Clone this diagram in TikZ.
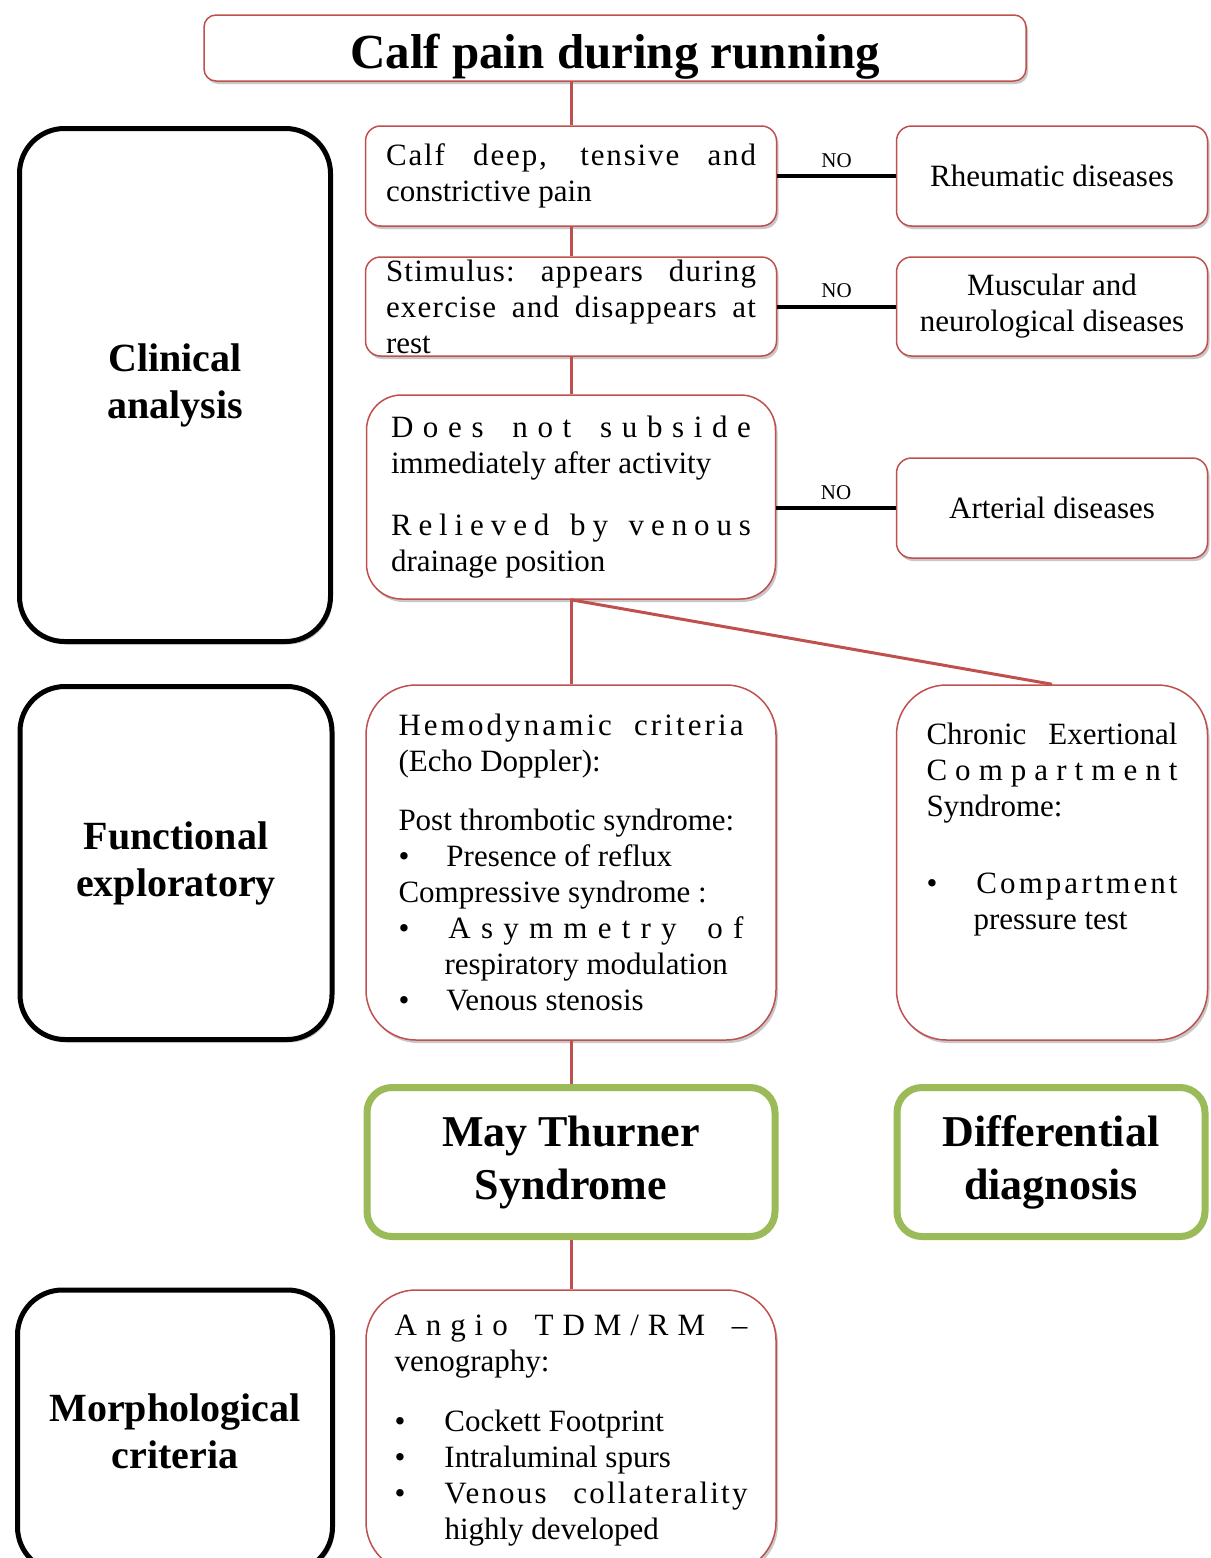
\documentclass[tikz,border=0pt]{standalone}
\usepackage{fontspec}
\setmainfont{Liberation Serif}
\usetikzlibrary{shadows,positioning,calc}

\definecolor{boxred}{HTML}{C0504D}
\definecolor{boxgreen}{HTML}{9BBB59}

\newcommand\bodyfont{\fontsize{31}{36}\selectfont}
\newcommand\headfont{\fontsize{49}{56}\selectfont\bfseries}
\newcommand\sidefont{\fontsize{40}{47}\selectfont\bfseries}
\newcommand\resfont{\fontsize{44}{53}\selectfont\bfseries}
\newcommand\nofont{\fontsize{21}{24}\selectfont}
% justified lines: word spread (\jl, optional letter spacing) and letter spread (\ls), plain and with bullet
\newcommand\wgap{\hspace{0pt plus 2fil}}
\newcommand\jl[2][0]{\makebox[\hsize][s]{\spaceskip=.25em plus 1fil\xspaceskip=.25em plus 1fil\relax\addfontfeature{LetterSpace=#1}#2}}
\newcommand\ls[1]{\makebox[\hsize][s]{\spaceskip=0pt plus 1fil\xspaceskip=0pt plus 1fil\relax#1}}
\newcommand\bul[1]{\makebox[#1][l]{\textbullet}}
\newcommand\bjl[3][0]{\bul{#2}\makebox[\dimexpr\hsize-#2\relax][s]{\spaceskip=.25em plus 1fil\relax\addfontfeature{LetterSpace=#1}#3}}
\newcommand\bls[2]{\bul{#1}\makebox[\dimexpr\hsize-#1\relax][s]{\spaceskip=0pt plus 1fil\relax#2}}

\tikzset{
  softshadow/.style={drop shadow={shadow xshift=2pt,shadow yshift=-3pt,opacity=.3,fill=black!70}},
  stepred/.style={draw=boxred,line width=1.5pt,fill=white,rounded corners=#1,softshadow,align=left,font=\bodyfont,inner sep=0pt,
    execute at begin node={\spaceskip=0pt\xspaceskip=0pt}},
  stepred/.default=15pt,
  sidebox/.style={draw=black,line width=5pt,fill=white,rounded corners=45pt,softshadow,align=center,font=\sidefont},
  resultbox/.style={draw=boxgreen,line width=7pt,fill=white,rounded corners=25pt,softshadow,align=center,font=\resfont,
    execute at begin node={\rule{0pt}{50pt}}},
  flow/.style={boxred,line width=3pt},
  nolink/.style={black,line width=4pt},
}

\begin{document}
\begin{tikzpicture}[x=1pt,y=-1pt]
        \useasboundingbox (0,0) rectangle (1210,1558);
        \fill[white] (0,0) rectangle (1210,1558);
        \def\midx{571}
        \def\rightx{1052}

        % title
        \node[stepred=12pt,align=center,font=\headfont,minimum width=822pt,minimum height=66pt,text height=52pt,text depth=11pt] (title) at (615,48) {Calf pain during running};

        % left column
        \node[sidebox,minimum width=311pt,minimum height=513pt] (clin) at (175,385) {Clinical\\analysis};
        \node[sidebox,minimum width=312pt,minimum height=353pt] (func) at (176,863) {Functional\\exploratory};
        \node[sidebox,minimum width=315pt,minimum height=282pt] (morph) at (175,1431) {Morphological\\criteria};

        % clinical steps
        \node[stepred,minimum width=411pt,minimum height=100pt,text width=370pt] (a1) at (\midx,176)
            {\jl[6]{Calf deep, tensive and}\\constrictive pain};
        \node[stepred,minimum width=411pt,minimum height=99pt,text width=370pt] (a2) at (\midx,306.5)
            {\jl[4]{Stimulus: appears during}\\\jl[4]{exercise and disappears at}\\rest};
        \node[stepred=35pt,minimum width=409pt,minimum height=204pt,text width=360pt] (a3) at (\midx,497)
            {\ls{D o e s \wgap n o t \wgap s u b s i d e}\\immediately after activity\\[26pt]
             \ls{R e l i e v e d \wgap b y \wgap v e n o u s}\\drainage position};

        \node[stepred,align=center,minimum width=311pt,minimum height=100pt] (r1) at (\rightx,176) {Rheumatic diseases};
        \node[stepred,align=center,minimum width=311pt,minimum height=99pt] (r2) at (\rightx,306.5) {Muscular and\\neurological diseases};
        \node[stepred,align=center,minimum width=311pt,minimum height=100pt] (r3) at (\rightx,508) {Arterial diseases};

        % functional exploration
        \node[stepred=50pt,minimum width=410pt,minimum height=355pt,text width=345pt] (b1) at (\midx,862.5)
            {\jl[10]{Hemodynamic criteria}\\(Echo Doppler):\\[23pt]
             Post thrombotic syndrome:\\\bul{48pt}Presence of reflux\\Compressive syndrome :\\
             \bls{50pt}{A s y m m e t r y \wgap o f}\\\hspace*{46pt}respiratory modulation\\\bul{48pt}Venous stenosis};
        \node[stepred=50pt,minimum width=311pt,minimum height=355pt,text width=251pt] (b2) at (\rightx,862.5)
            {\jl{Chronic Exertional}\\\ls{C o m p a r t m e n t}\\Syndrome:\\[41pt]
             \bls{50pt}{C o m p a r t m e n t}\\\hspace*{47pt}pressure test\\[36pt]\mbox{}};

        % results
        \node[resultbox,minimum width=408pt,minimum height=149pt] (g1) at (\midx,1162) {May Thurner\\Syndrome};
        \node[resultbox,minimum width=308pt,minimum height=149pt] (g2) at (1051,1162) {Differential\\diagnosis};

        % morphology
        \node[stepred=50pt,minimum width=410pt,minimum height=282pt,text width=353pt] (c1) at (\midx,1431)
            {\ls{A n g i o \wgap T D M / R M \wgap --}\\venography:\\[24pt]
             \bul{50pt}Cockett Footprint\\\bul{50pt}Intraluminal spurs\\
             \bjl[7]{50pt}{Venous collaterality}\\\hspace*{50pt}highly developed};

        % connectors
        \draw[flow] (a1.north) -- (a1.north |- title.south);
        \draw[flow] (a1.south) -- (a2.north);
        \draw[flow] (a2.south) -- (a3.north);
        \draw[flow] (a3.south) -- (b1.north);
        \draw[flow] (a3.south) -- (b2.north);
        \draw[flow] (b1.south) -- (g1.north);
        \draw[flow] (g1.south) -- (c1.north);

        \draw[nolink] (a1.east) -- node[above=3pt,font=\nofont] (no1) {NO} (r1.west);
        \draw[nolink] (a2.east) -- node[above=3pt,font=\nofont] (no2) {NO} (r2.west);
        \draw[nolink] (r3.west -| a3.east) -- node[above=3pt,font=\nofont] (no3) {NO} (r3.west);
    \end{tikzpicture}
\end{document}
